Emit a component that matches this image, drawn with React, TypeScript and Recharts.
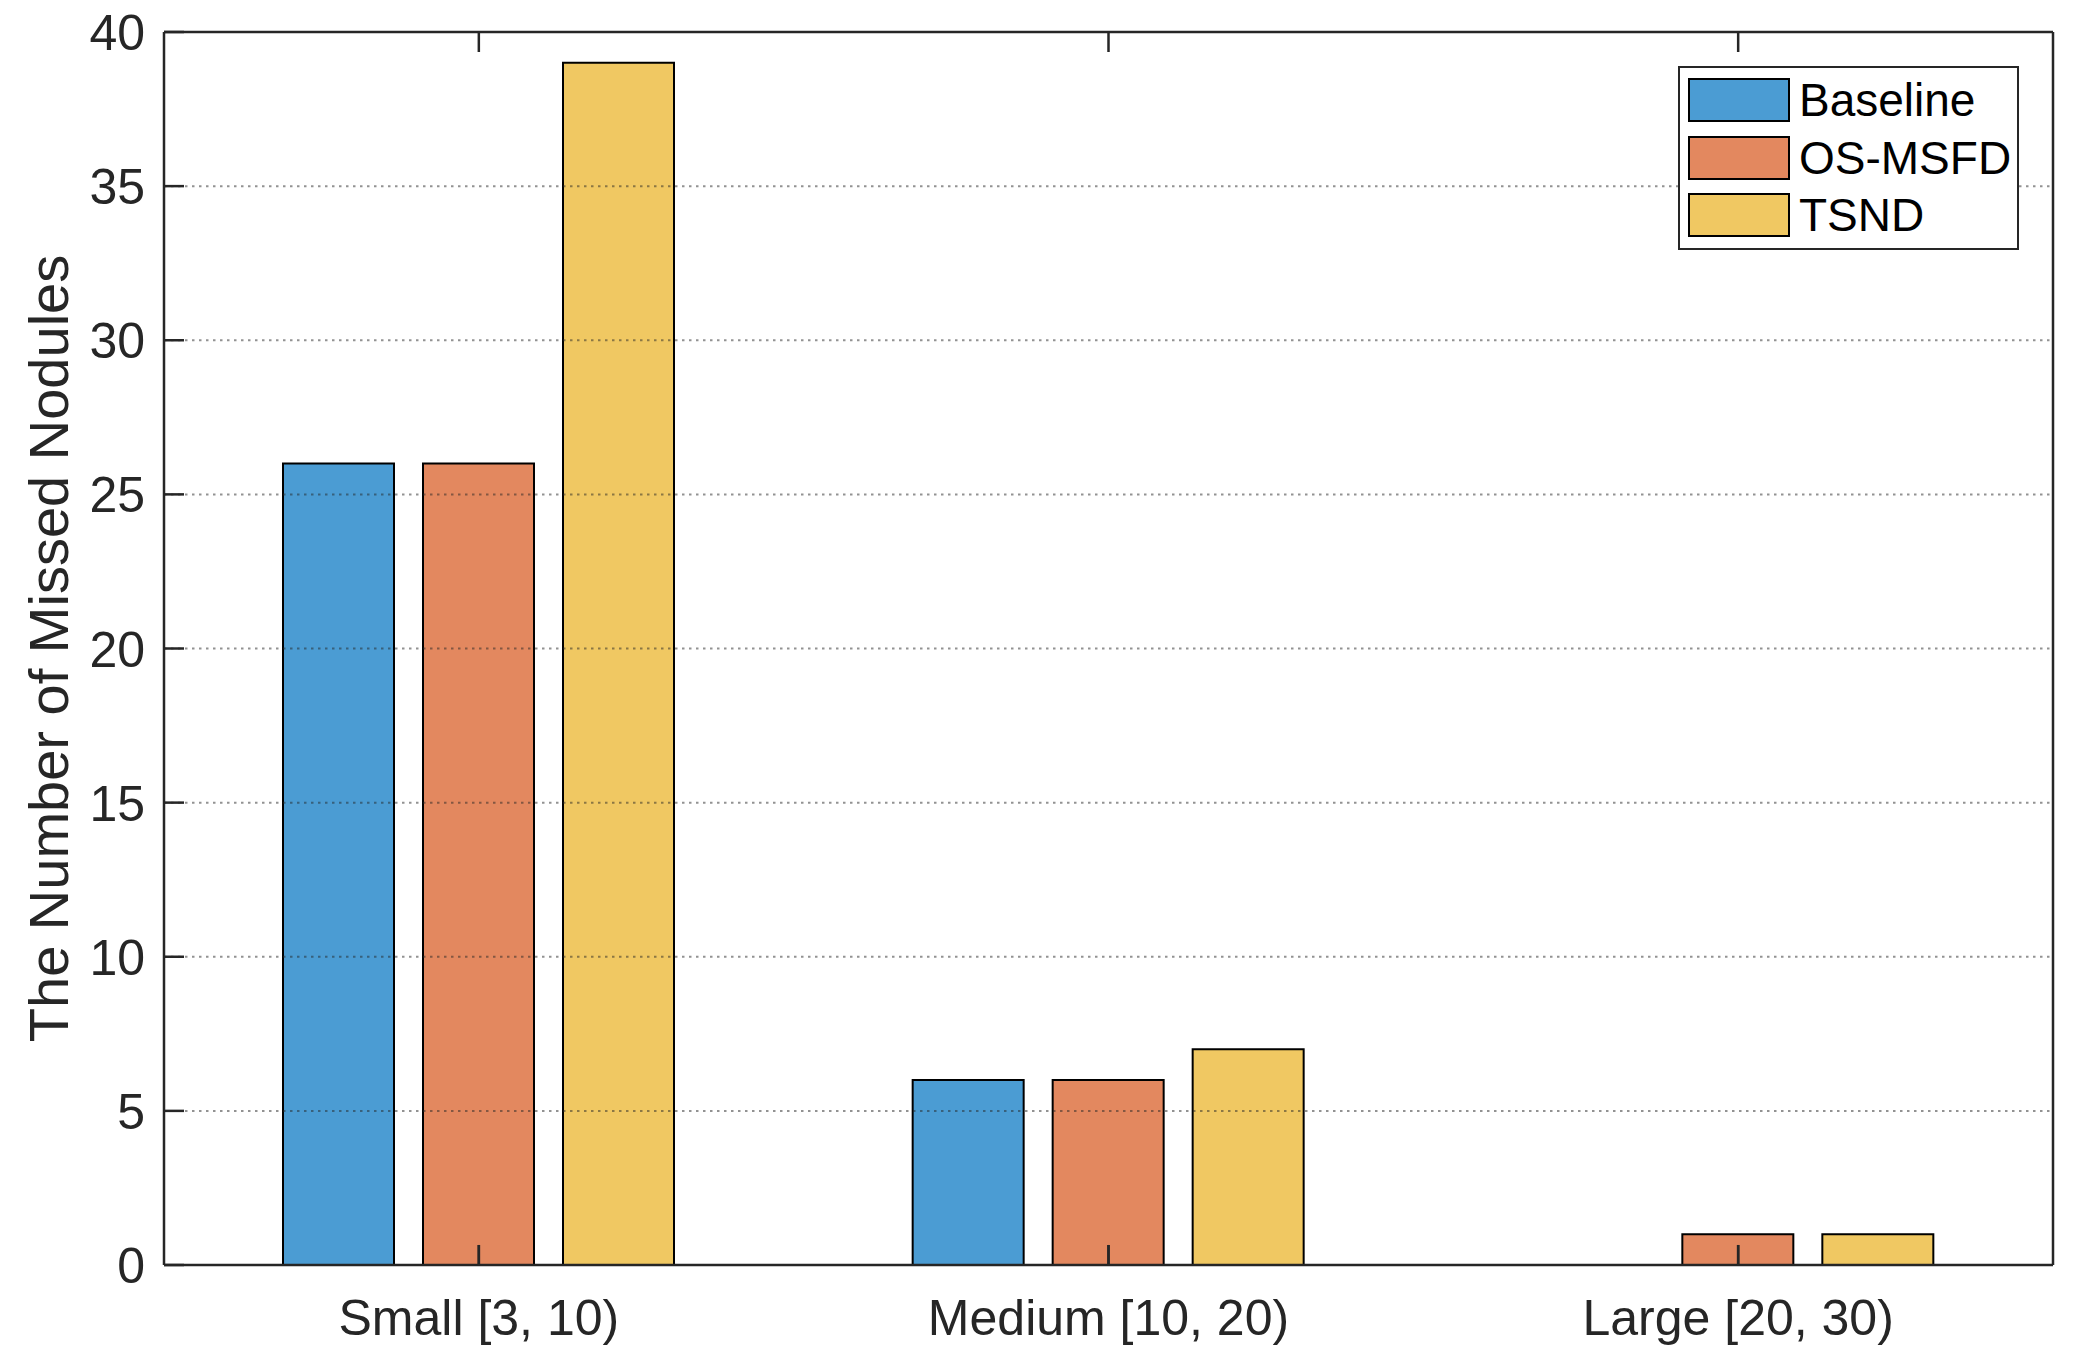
import React from "react";
import { BarChart, Bar, XAxis, YAxis, ReferenceLine } from "recharts";

// categories and values
const categories = ["Small [3, 10)", "Medium [10, 20)", "Large [20, 30)"];
const baselineValues = [26, 6, 0];
const osMsfdValues = [26, 6, 1];
const tsndValues = [39, 7, 1];
const yTicks = [0, 5, 10, 15, 20, 25, 30, 35, 40];
const gridTicks = [5, 10, 15, 20, 25, 30, 35];

const series = [
  { key: "baseline", name: "Baseline", color: "#4B9CD3" },
  { key: "osmsfd", name: "OS-MSFD", color: "#E3885F" },
  { key: "tsnd", name: "TSND", color: "#F0C862" },
];

const data = categories.map((cat, i) => ({
  cat,
  baseline: baselineValues[i],
  osmsfd: osMsfdValues[i],
  tsnd: tsndValues[i],
}));

const FONT = "'Liberation Sans', Arial, Helvetica, sans-serif";
const AXIS = "#262626";
const TICK_LEN = 20;
// inside tick length of the bottom axis, in y units (20px at ~30.8px per unit)
const TICK_UNITS = 0.65;

const LeftTick = (props: any) => {
  const { x, y, payload } = props;
  return (
    <g>
      <line x1={x} x2={x + TICK_LEN} y1={y} y2={y} stroke={AXIS} strokeWidth={2.5} />
      <text x={x - 19} y={y} dy="0.36em" textAnchor="end" fontSize={50} fill={AXIS} fontFamily={FONT}>
        {payload.value}
      </text>
    </g>
  );
};

const RightTick = (props: any) => {
  const { x, y } = props;
  return <line x1={x - TICK_LEN} x2={x} y1={y} y2={y} stroke={AXIS} strokeWidth={2.5} />;
};

const BottomTick = (props: any) => {
  const { x, y, payload } = props;
  return (
    <g>
      <line x1={x} x2={x} y1={y} y2={y - TICK_LEN} stroke={AXIS} strokeWidth={2.5} />
      <text x={x} y={y + 70} textAnchor="middle" fontSize={50} fill={AXIS} fontFamily={FONT}>
        {payload.value}
      </text>
    </g>
  );
};

const TopTick = (props: any) => {
  const { x, y } = props;
  return <line x1={x} x2={x} y1={y} y2={y + TICK_LEN} stroke={AXIS} strokeWidth={2.5} />;
};

const YLabel = (props: any) => {
  const vb = props.viewBox;
  const cx = vb.x + 68;
  const cy = vb.y + vb.height / 2;
  return (
    <text
      x={cx}
      y={cy}
      transform={`rotate(-90, ${cx}, ${cy})`}
      textAnchor="middle"
      fontSize={56}
      fill={AXIS}
      fontFamily={FONT}
    >
      The Number of Missed Nodules
    </text>
  );
};

const LegendBox = () => (
  <div
    style={{
      position: "absolute",
      left: 1678,
      top: 66,
      width: 341,
      height: 184,
      boxSizing: "border-box",
      border: `2.5px solid ${AXIS}`,
      background: "#fff",
      fontFamily: FONT,
    }}
  >
    {series.map((s, i) => (
      <div key={s.key} style={{ position: "absolute", left: 8, top: 10 + i * 57.5, height: 44 }}>
        <div
          style={{
            position: "absolute",
            left: 0,
            top: 0,
            width: 102,
            height: 44,
            boxSizing: "border-box",
            border: "2px solid #000",
            background: s.color,
          }}
        />
        <div
          style={{
            position: "absolute",
            left: 111,
            top: 0,
            height: 44,
            lineHeight: "44px",
            fontSize: 46,
            color: "#000",
            whiteSpace: "nowrap",
          }}
        >
          {s.name}
        </div>
      </div>
    ))}
  </div>
);

export default function App() {
  return (
    <div style={{ position: "absolute", left: 0, top: 0, width: 2073, height: 1361, background: "#fff" }}>
      <BarChart
        width={2073}
        height={1361}
        data={data}
        margin={{ top: 0, right: 0, bottom: 0, left: 0 }}
        barCategoryGap={119}
        barGap={29}
      >
        {series.map((s) => (
          <Bar
            key={s.key}
            dataKey={s.key}
            name={s.name}
            fill={s.color}
            stroke="#000"
            strokeWidth={2}
            isAnimationActive={false}
          />
        ))}
        {gridTicks.map((t) => (
          <ReferenceLine
            key={t}
            y={t}
            stroke={AXIS}
            strokeOpacity={0.5}
            strokeWidth={2}
            strokeDasharray="2.5 4.5"
          />
        ))}
        {categories.map((c) => (
          <ReferenceLine
            key={c}
            segment={[
              { x: c, y: 0 },
              { x: c, y: TICK_UNITS },
            ]}
            stroke={AXIS}
            strokeWidth={2.5}
          />
        ))}
        <XAxis
          dataKey="cat"
          height={96}
          interval={0}
          tickSize={0}
          tickMargin={0}
          tick={<BottomTick />}
          axisLine={{ stroke: AXIS, strokeWidth: 2.5 }}
        />
        <XAxis
          xAxisId="top"
          dataKey="cat"
          orientation="top"
          height={32}
          interval={0}
          tickSize={0}
          tickMargin={0}
          tick={<TopTick />}
          axisLine={{ stroke: AXIS, strokeWidth: 2.5 }}
        />
        <YAxis
          width={164}
          domain={[0, 40]}
          ticks={yTicks}
          interval={0}
          tickSize={0}
          tickMargin={0}
          tick={<LeftTick />}
          axisLine={{ stroke: AXIS, strokeWidth: 2.5 }}
          label={<YLabel />}
        />
        <YAxis
          yAxisId="right"
          orientation="right"
          width={20}
          domain={[0, 40]}
          ticks={yTicks}
          interval={0}
          tickSize={0}
          tickMargin={0}
          tick={<RightTick />}
          axisLine={{ stroke: AXIS, strokeWidth: 2.5 }}
        />
      </BarChart>
      <LegendBox />
    </div>
  );
}
